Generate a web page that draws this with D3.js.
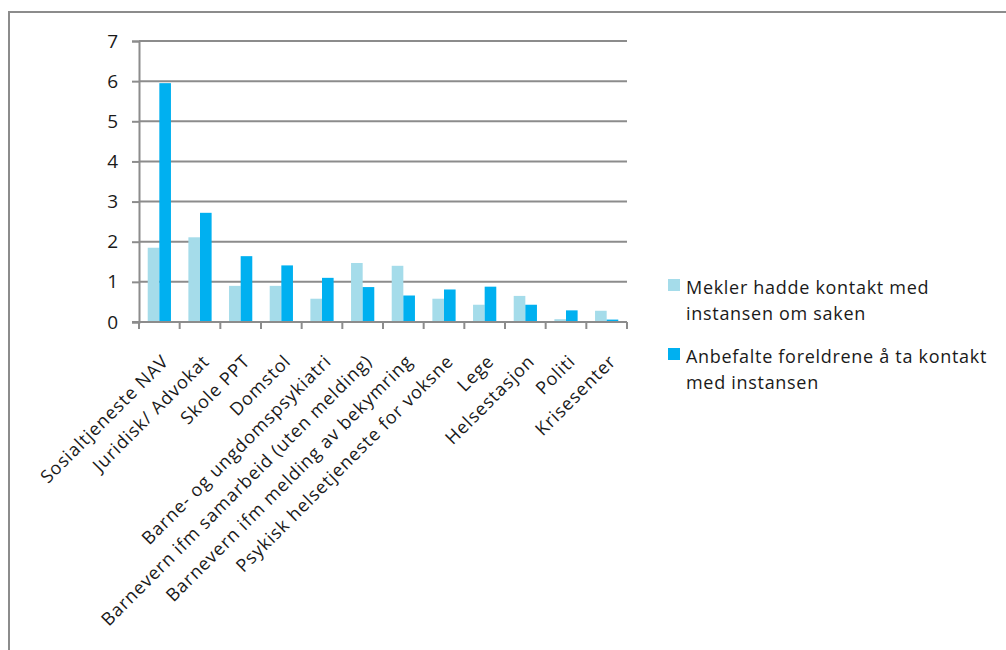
<!DOCTYPE html>
<html>
<head>
<meta charset="utf-8">
<script src="https://cdn.jsdelivr.net/npm/d3@7"></script>
<style>
  html, body { margin: 0; padding: 0; background: #fff; }
  svg { display: block; }
  text { font-family: "Open Sans", sans-serif; fill: #1a1a1a; }
</style>
</head>
<body>
<svg id="chart" width="1006" height="650"></svg>
<script>
const categories = [
  "Sosialtjeneste NAV",
  "Juridisk/ Advokat",
  "Skole PPT",
  "Domstol",
  "Barne- og ungdomspsykiatri",
  "Barnevern ifm samarbeid (uten melding)",
  "Barnevern ifm melding av bekymring",
  "Psykisk helsetjeneste for voksne",
  "Lege",
  "Helsestasjon",
  "Politi",
  "Krisesenter"
];
const seriesNames = [
  "Mekler hadde kontakt med instansen om saken",
  "Anbefalte foreldrene å ta kontakt med instansen"
];
const legendLines = [
  ["Mekler hadde kontakt med", "instansen om saken"],
  ["Anbefalte foreldrene å ta kontakt", "med instansen"]
];
const meklerValues = [1.85, 2.11, 0.90, 0.90, 0.58, 1.47, 1.40, 0.58, 0.43, 0.65, 0.07, 0.28];
const anbefalteValues = [5.95, 2.72, 1.64, 1.41, 1.10, 0.87, 0.66, 0.81, 0.88, 0.43, 0.29, 0.06];
const yTicks = [0, 1, 2, 3, 4, 5, 6, 7];
const colors = ["#a5dcea", "#00b0f0"];

const svg = d3.select("#chart");
const gridColor = "#8c8c8c";

// outer frame (extends beyond the viewport on right and bottom)
svg.append("path")
  .attr("d", "M9,700 L9,12 L1100,12")
  .attr("fill", "none")
  .attr("stroke", gridColor)
  .attr("stroke-width", 2);

const x0 = d3.scaleBand().domain(categories).range([139, 627]).padding(0);
const x1 = d3.scaleBand().domain(seriesNames)
  .range([x0.bandwidth() * 0.75 / 3.5, x0.bandwidth() * 2.75 / 3.5]).padding(0);
const y = d3.scaleLinear().domain([0, 7]).range([322, 41]);

// gridlines
svg.append("g").selectAll("line").data(yTicks.filter(d => d > 0)).join("line")
  .attr("x1", 139).attr("x2", 627)
  .attr("y1", d => y(d)).attr("y2", d => y(d))
  .attr("stroke", gridColor).attr("stroke-width", 2);

// y axis
const yAxis = d3.axisLeft(y).tickValues(yTicks).tickSize(7).tickPadding(14).tickFormat(d3.format("d"));
const gy = svg.append("g").attr("transform", "translate(139,0)").call(yAxis);
gy.select(".domain").attr("stroke", gridColor).attr("stroke-width", 2);
gy.selectAll(".tick line").attr("stroke", gridColor).attr("stroke-width", 2);
gy.selectAll(".tick text").attr("font-size", 19).attr("font-family", "Open Sans, sans-serif").attr("fill", "#1a1a1a");

// bars
const data = categories.map((c, i) => ({ cat: c, vals: [meklerValues[i], anbefalteValues[i]] }));
const groups = svg.append("g").selectAll("g").data(data).join("g")
  .attr("transform", d => `translate(${x0(d.cat)},0)`);
groups.selectAll("rect").data(d => d.vals.map((v, k) => ({ k, v }))).join("rect")
  .attr("x", d => x1(seriesNames[d.k]))
  .attr("width", x1.bandwidth())
  .attr("y", d => y(d.v))
  .attr("height", d => y(0) - y(d.v))
  .attr("fill", d => colors[d.k]);

// x axis line and ticks at category boundaries
const boundaries = categories.map(c => x0(c)).concat([x0.range()[1]]);
svg.append("line").attr("x1", 132).attr("x2", 627).attr("y1", y(0)).attr("y2", y(0))
  .attr("stroke", gridColor).attr("stroke-width", 2);
svg.append("g").selectAll("line").data(boundaries).join("line")
  .attr("x1", d => d).attr("x2", d => d)
  .attr("y1", y(0)).attr("y2", y(0) + 7)
  .attr("stroke", gridColor).attr("stroke-width", 2);

// x labels rotated
svg.append("g").selectAll("text").data(categories).join("text")
  .attr("text-anchor", "end")
  .attr("font-size", 18)
  .attr("letter-spacing", "0.9px")
  .attr("transform", d => `translate(${x0(d) + x0.bandwidth() / 2 + 6},${y(0) + 36}) rotate(-45)`)
  .attr("dy", "0.35em")
  .text(d => d);

// legend
const legend = svg.append("g");
const legendTop = [294, 363];
legendLines.forEach((lines, k) => {
  legend.append("rect")
    .attr("x", 668).attr("y", legendTop[k] - 15)
    .attr("width", 12).attr("height", 12)
    .attr("fill", colors[k]);
  lines.forEach((ln, j) => {
    legend.append("text")
      .attr("x", 686).attr("y", legendTop[k] + j * 26)
      .attr("font-size", 18)
      .attr("letter-spacing", "0.7px")
      .text(ln);
  });
});
</script>
</body>
</html>
